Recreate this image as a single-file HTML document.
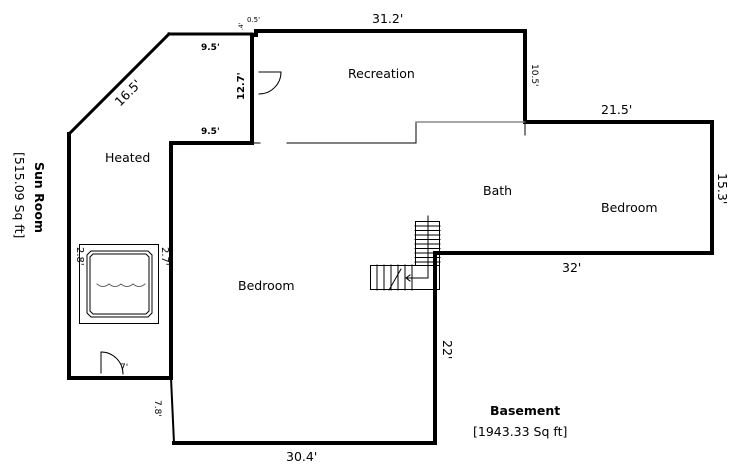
<!DOCTYPE html>
<html><head><style>
html,body{margin:0;padding:0;background:#fff;}
svg{display:block;font-family:"DejaVu Sans","Liberation Sans",sans-serif;}
</style></head><body>
<svg width="739" height="473" viewBox="0 0 739 473" xmlns="http://www.w3.org/2000/svg">
<g fill="none" stroke="#000" stroke-linecap="square">
<polyline points="252,143 171,143 171,378" stroke-width="4"/>
<polyline points="252,35 252,143" stroke-width="4"/>
<polyline points="169,34 252,34" stroke-width="3"/>
<line x1="69" y1="134" x2="169" y2="34" stroke-width="3"/>
<polyline points="69,134 69,378 171,378" stroke-width="4"/>
<polyline points="256,35 256,31 525,31 525,122 712,122 712,253 435,253 435,443 174,443" stroke-width="4"/>
<line x1="171" y1="378" x2="174" y2="443" stroke-width="2"/>
<line x1="252" y1="143" x2="260" y2="143" stroke-width="1"/>
<polyline points="287,143 416,143 416,122 525,122" stroke-width="1"/>
<line x1="416" y1="122" x2="525" y2="122" stroke="#888" stroke-width="1.5"/>
<line x1="525" y1="122" x2="525" y2="135" stroke-width="1"/>
<line x1="259" y1="72" x2="281" y2="72" stroke-width="1"/>
<path d="M281,72 A22,22 0 0 1 259,94" stroke-width="1"/>
<rect x="79.5" y="244.5" width="79" height="79" stroke-width="1"/>
<path d="M91,251 L148,251 L152,255 L152,313 L148,317 L91,317 L87,313 L87,255 Z" stroke-width="1"/>
<path d="M93,254 L146,254 L149,257 L149,311 L146,314 L93,314 L90,311 L90,257 Z" stroke-width="1"/>
<path d="M97,284 q6,5 12,0 q6,5 12,0 q6,5 12,0 q6,5 12,0" stroke="#666" stroke-width="1"/>
<line x1="101" y1="352" x2="101" y2="373" stroke-width="1"/>
<path d="M101,352 A22,22 0 0 1 123,374" stroke-width="1"/>
<rect x="415.5" y="221.5" width="24" height="44" stroke-width="1"/>
<g stroke-width="1">
<line x1="415" y1="226" x2="440" y2="226"/><line x1="415" y1="230.5" x2="440" y2="230.5"/>
<line x1="415" y1="235" x2="440" y2="235"/><line x1="415" y1="239.5" x2="440" y2="239.5"/>
<line x1="415" y1="244" x2="440" y2="244"/><line x1="415" y1="248.5" x2="440" y2="248.5"/>
<line x1="415" y1="253" x2="440" y2="253"/><line x1="415" y1="257.5" x2="440" y2="257.5"/>
<line x1="415" y1="262" x2="440" y2="262"/>
</g>
<rect x="370.5" y="265.5" width="69" height="24" stroke-width="1"/>
<g stroke-width="1">
<line x1="377" y1="265" x2="377" y2="290"/><line x1="384" y1="265" x2="384" y2="290"/>
<line x1="391" y1="265" x2="391" y2="290"/><line x1="398" y1="265" x2="398" y2="290"/>
<line x1="405" y1="265" x2="405" y2="290"/><line x1="412" y1="265" x2="412" y2="290"/>
</g>
<polyline points="428,216 428,278 407,278" stroke-width="1"/>
<polyline points="410,275 406,278 410,281" stroke-width="1"/>
<line x1="389" y1="290" x2="401" y2="269" stroke-width="1"/>
</g>
<g font-size="12.5" fill="#000">
<text x="348" y="78">Recreation</text>
<text x="483" y="195">Bath</text>
<text x="601" y="212">Bedroom</text>
<text x="238" y="290">Bedroom</text>
<text x="105" y="162">Heated</text>
<text x="372" y="23">31.2'</text>
<text x="601" y="114">21.5'</text>
<text x="562" y="272">32'</text>
<text x="286" y="461">30.4'</text>
<text transform="translate(718,173) rotate(90)">15.3'</text>
<text transform="translate(443,340) rotate(90)">22'</text>
<text transform="translate(120,107) rotate(-45)">16.5'</text>
<text x="473" y="436">[1943.33 Sq ft]</text>
<text x="490" y="415" font-weight="bold">Basement</text>
<text transform="translate(35,162) rotate(90)" font-weight="bold">Sun Room</text>
<text transform="translate(15,152) rotate(90)">[515.09 Sq ft]</text>
</g>
<g font-size="9" fill="#000">
<text x="201" y="50" font-weight="bold">9.5'</text>
<text x="201" y="134" font-weight="bold">9.5'</text>
<text transform="translate(244,100) rotate(-90)" font-weight="bold" font-size="10">12.7'</text>
<text transform="translate(532,64) rotate(90)">10.5'</text>
<text transform="translate(155,400) rotate(90)">7.8'</text>
<text transform="translate(77,247) rotate(90)" font-size="10">2.8'</text>
<text transform="translate(162,247) rotate(90)" font-size="10">2.7'</text>
<text x="120" y="370">7'</text>
<text x="247" y="22" font-size="7">0.5'</text>
<text transform="translate(243,30) rotate(-90)" font-size="6">.4'</text>
</g>
</svg>
</body></html>
